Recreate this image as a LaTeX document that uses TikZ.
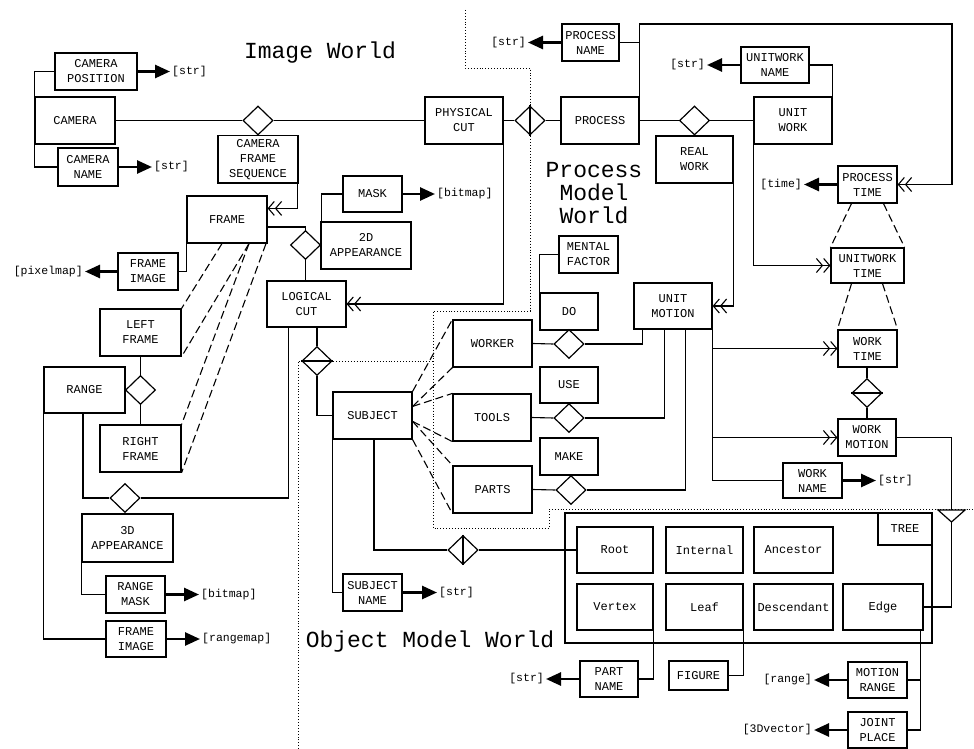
\documentclass[tikz,border=0pt]{standalone}
\usepackage{fontspec}
\setmainfont{Liberation Mono}
\usetikzlibrary{arrows.meta,shapes.geometric}
\newcommand\ERbox[6]{\node[box,minimum width={(#4-#2)*1pt},minimum height={(#5-#3)*1pt}] (#1) at ({(#2+#4)/2},{(#3+#5)/2}) {#6};}
\begin{document}
\begin{tikzpicture}[x=1pt,y=-1pt,
 box/.style={draw,line width=1.2pt,inner sep=0pt,align=center,fill=white,font=\fontsize{12}{15}\selectfont},
 dia/.style={draw,shape=diamond,line width=1.2pt,fill=white,inner sep=0pt,minimum width=30pt,minimum height=29pt},
 ln/.style={line width=1.1pt},
 dbl/.style={line width=1.1pt,-{Straight Barb[length=6pt,width=14pt]Straight Barb[length=6pt,width=14pt]}},
 attr/.style={line width=2.6pt,-{Triangle[length=15pt,width=13pt]}},
 lbl/.style={inner sep=2pt,font=\fontsize{11.5}{13}\selectfont},
 dsh/.style={line width=1.1pt,dash pattern=on 8pt off 4pt},
 bnd/.style={line width=0.9pt,dotted},
 ttl/.style={font=\fontsize{23}{23}\selectfont,align=center}]
\fill[white] (0,0) rectangle (974,749);
\useasboundingbox (0,0) rectangle (974,749);

% region boundaries
\draw[bnd] (465,10) -- (465,68) -- (530,68) -- (530,311) -- (433,311) -- (433,528) -- (549,528) -- (549,509) -- (974,509);
\draw[bnd] (298,749) -- (298,361) -- (433,361);

% titles
\node[ttl] (t1) at (320,53) {Image World};
\node[ttl] (t2) at (594,193) {Process\\Model\\World};
\node[ttl] (t3) at (430,642) {Object Model World};

% Image world boxes
\ERbox{campos}{55}{53}{137}{90}{CAMERA\\POSITION}
\ERbox{camera}{35}{97}{115}{144}{CAMERA}
\ERbox{camname}{58}{148}{118}{186}{CAMERA\\NAME}
\ERbox{physcut}{425}{97}{503}{144}{PHYSICAL\\CUT}
\ERbox{cfs}{218}{135.5}{298}{183}{CAMERA\\FRAME\\SEQUENCE}
\ERbox{frame}{187}{196}{267}{243}{FRAME}
\ERbox{mask}{343}{176}{402}{212}{MASK}
\ERbox{apptwo}{321}{222}{411}{269}{2D\\APPEARANCE}
\ERbox{logcut}{267}{281}{346}{327}{LOGICAL\\CUT}
\ERbox{frameimgA}{118}{253}{178}{290}{FRAME\\IMAGE}
\ERbox{leftframe}{100}{309}{181}{356}{LEFT\\FRAME}
\ERbox{rightframe}{100}{425}{181}{472}{RIGHT\\FRAME}
\ERbox{range}{44}{367}{125}{413}{RANGE}
\ERbox{appthree}{82}{514}{173}{562}{3D\\APPEARANCE}
\ERbox{rangemask}{106}{576}{165}{613}{RANGE\\MASK}
\ERbox{frameimgB}{106}{621}{166}{657}{FRAME\\IMAGE}

% Process world boxes
\ERbox{procname}{562}{24}{619}{61}{PROCESS\\NAME}
\ERbox{process}{561}{97}{639}{144}{PROCESS}
\ERbox{uwname}{741}{47}{809}{83}{UNITWORK\\NAME}
\ERbox{unitwork}{754}{97}{832}{144}{UNIT\\WORK}
\ERbox{realwork}{656}{136}{733}{183}{REAL\\WORK}
\ERbox{proctime}{838}{166}{897}{203}{PROCESS\\TIME}
\ERbox{uwtime}{831}{248}{904}{283}{UNITWORK\\TIME}
\ERbox{worktime}{838}{330}{897}{367}{WORK\\TIME}
\ERbox{workmotion}{838}{419}{896}{456}{WORK\\MOTION}
\ERbox{workname}{783}{463}{842}{498}{WORK\\NAME}
\ERbox{unitmotion}{634}{283}{712}{329}{UNIT\\MOTION}
\ERbox{mental}{559}{236}{618}{273}{MENTAL\\FACTOR}
\ERbox{do}{540}{293}{598}{330}{DO}
\ERbox{worker}{453}{320}{532}{367}{WORKER}
\ERbox{use}{540}{367}{598}{403}{USE}
\ERbox{tools}{453}{394}{531}{441}{TOOLS}
\ERbox{make}{540}{438}{598}{475}{MAKE}
\ERbox{parts}{453}{466}{532}{513}{PARTS}

% Object world boxes
\ERbox{subject}{333}{392}{412}{439}{SUBJECT}
\ERbox{subjname}{343}{574}{402}{611}{SUBJECT\\NAME}
\ERbox{treebox}{565}{513}{932}{643}{}
\ERbox{treelabel}{878}{513}{932}{545}{TREE}
\ERbox{root}{577}{527}{653}{573}{Root}
\ERbox{internal}{666}{527}{743}{573}{Internal}
\ERbox{ancestor}{754}{527}{833}{573}{Ancestor}
\ERbox{vertex}{577}{584}{653}{630}{Vertex}
\ERbox{leaf}{666}{584}{743}{630}{Leaf}
\ERbox{descendant}{754}{584}{833}{630}{Descendant}
\ERbox{edge}{843}{584}{923}{630}{Edge}
\ERbox{partname}{580}{661}{638}{697}{PART\\NAME}
\ERbox{figure}{669}{661}{728}{690}{FIGURE}
\ERbox{motionrange}{848}{662}{907}{698}{MOTION\\RANGE}
\ERbox{jointplace}{848}{712}{907}{748}{JOINT\\PLACE}

% diamonds
\node[dia] (dA) at (258,120.5) {};
\node[dia] (dB) at (305.5,245) {};
\node[dia] (dC) at (317,361) {};
\node[dia] (dD) at (140.5,390) {};
\node[dia] (dE) at (125,498) {};
\node[dia] (dF) at (530,120.5) {};
\node[dia] (dG) at (694.5,120.5) {};
\node[dia] (dH) at (569,344) {};
\node[dia] (dI) at (569,418) {};
\node[dia] (dJ) at (571,490) {};
\node[dia] (dK) at (867,393) {};
\node[dia] (dL) at (463,550) {};
\draw[ln] (dC.west) -- (dC.east);
\draw[ln] (dF.north) -- (dF.south);
\draw[ln] (dK.west) -- (dK.east);
\draw[ln] (dL.north) -- (dL.south);

% triangle marker
\coordinate (tritop) at (951.5,510);
\coordinate (triapex) at (951.5,522);
\draw[line width=1.2pt,fill=white] (938,510) -- (965,510) -- (triapex) -- cycle;

% attribute labels
\node[lbl,anchor=west] (sA) at (170,71.5) {[str]};
\node[lbl,anchor=west] (sB) at (152,167) {[str]};
\node[lbl,anchor=west] (sC) at (435,194) {[bitmap]};
\node[lbl,anchor=east] (sD) at (85,271.5) {[pixelmap]};
\node[lbl,anchor=west] (sE) at (199,594.5) {[bitmap]};
\node[lbl,anchor=west] (sF) at (200,639) {[rangemap]};
\node[lbl,anchor=east] (sG) at (528,42.5) {[str]};
\node[lbl,anchor=east] (sH) at (707,65) {[str]};
\node[lbl,anchor=east] (sI) at (804,184.5) {[time]};
\node[lbl,anchor=west] (sJ) at (876,480.5) {[str]};
\node[lbl,anchor=west] (sK) at (437,592.5) {[str]};
\node[lbl,anchor=east] (sL) at (546,679) {[str]};
\node[lbl,anchor=east] (sM) at (814,680) {[range]};
\node[lbl,anchor=east] (sN) at (814,730) {[3Dvector]};

\draw[attr] (campos.east) -- (sA.west);
\draw[attr] (camname.east) -- (sB.west);
\draw[attr] (mask.east) -- (sC.west);
\draw[attr] (frameimgA.west) -- (sD.east);
\draw[attr] (rangemask.east) -- (sE.west);
\draw[attr] (frameimgB.east) -- (sF.west);
\draw[attr] (procname.west) -- (sG.east);
\draw[attr] (uwname.west) -- (sH.east);
\draw[attr] (proctime.west) -- (sI.east);
\draw[attr] (workname.east) -- (sJ.west);
\draw[attr] (subjname.east) -- (sK.west);
\draw[attr] (partname.west) -- (sL.east);
\draw[attr] (motionrange.west) -- (sM.east);
\draw[attr] (jointplace.west) -- (sN.east);

% image world connectors
\draw[ln] (campos.west) -| (camera.north west);
\draw[ln] (camname.west) -| (camera.south west);
\draw[ln] (camera.east) -- (dA.west);
\draw[ln] (dA.east) -- (physcut.west);
\draw[ln] (dA.south) -- (cfs.north);
\draw[dbl] ([xshift=-1pt]cfs.south east) |- ([yshift=-13pt]frame.north east);
\draw[ln] ([yshift=-7.5pt]frame.east) -| (dB.north);
\draw[ln] (dB.east) -- (apptwo.west);
\draw[ln] (dB.south) -- (dB.south |- logcut.north);
\draw[ln] ([xshift=1pt]apptwo.north west) |- (mask.west);
\draw[dbl] (physcut.south east) |- (logcut.east);
\draw[ln] (frame.south west) |- (frameimgA.east);
\draw[dsh] ([xshift=-5pt]frame.south) -- (leftframe.north east);
\draw[dsh] ([xshift=22pt]frame.south) -- (leftframe.south east);
\draw[dsh] ([xshift=22pt]frame.south) -- (rightframe.north east);
\draw[dsh] ([xshift=39pt]frame.south) -- (rightframe.south east);
\draw[ln] (leftframe.south) -- (dD.north);
\draw[ln] (dD.south) -- (rightframe.north);
\draw[ln] (dD.west) -- (range.east);
\draw[ln] ([xshift=-1.5pt]range.south) |- (dE.west);
\draw[ln] (dE.east) -| ([xshift=22pt]logcut.south west);
\draw[ln] (dE.south) -- (dE.south |- appthree.north);
\draw[ln] (appthree.south west) |- (rangemask.west);
\draw[ln] (range.south west) |- (frameimgB.west);
\draw[ln] (dC.north |- logcut.south) -- (dC.north);
\draw[ln] (dC.south) |- (subject.west);

% process world connectors
\draw[ln] (physcut.east) -- (dF.west);
\draw[ln] (dF.east) -- (process.west);
\draw[ln] (process.east) -- (dG.west);
\draw[ln] (dG.east) -- (unitwork.west);
\draw[ln] (dG.south) -- (realwork.north);
\coordinate (tr) at (952,24);
\draw[dbl] (process.north east) |- (tr) |- (proctime.east);
\draw[ln] (procname.east) -- (procname.east -| process.north east);
\draw[ln] (uwname.east) -| (unitwork.north east);
\draw[dbl] (realwork.south east) |- (unitmotion.east);
\draw[dbl] (unitwork.south west) |- (uwtime.west);
\draw[dsh] ([xshift=-16pt]proctime.south) -- (uwtime.north west);
\draw[dsh] ([xshift=16pt]proctime.south) -- (uwtime.north east);
\draw[dsh] ([xshift=-16pt]uwtime.south) -- (worktime.north west);
\draw[dsh] ([xshift=15pt]uwtime.south) -- (worktime.north east);
\draw[ln] (dK.north |- worktime.south) -- (dK.north);
\draw[ln] (dK.south) -- (dK.south |- workmotion.north);
\draw[ln] (unitmotion.south east) |- (workname.west);
\draw[dbl] (unitmotion.south east) |- (worktime.west);
\draw[dbl] (unitmotion.south east) |- (workmotion.west);
\draw[ln] (workmotion.east) -| (tritop);
\draw[ln] (triapex) |- (edge.east);
\draw[ln] (mental.west) -| (do.north west);
\draw[ln] (do.south) -- (dH.north);
\draw[ln] (worker.east) -- (dH.west);
\draw[ln] (dH.east) -| ([xshift=9pt]unitmotion.south west);
\draw[ln] (use.south) -- (dI.north);
\draw[ln] (tools.east) -- (dI.west);
\draw[ln] (dI.east) -| ([xshift=31pt]unitmotion.south west);
\draw[ln] (make.south -| dJ.north) -- (dJ.north);
\draw[ln] (parts.east) -- (dJ.west);
\draw[ln] (dJ.east) -| ([xshift=52pt]unitmotion.south west);

% object world connectors
\draw[dsh] (subject.north east) -- (worker.north west);
\draw[dsh] ([yshift=-15pt]subject.north east) -- (worker.south west);
\draw[dsh] ([yshift=-15pt]subject.north east) -- (tools.north west);
\draw[dsh] ([yshift=-30pt]subject.north east) -- (tools.south west);
\draw[dsh] ([yshift=-30pt]subject.north east) -- (parts.north west);
\draw[dsh] (subject.south east) -- (parts.south west);
\draw[ln] (subject.south west) |- (subjname.west);
\draw[ln] ([xshift=1.5pt]subject.south) |- (dL.west);
\draw[ln] (dL.east) -- (root.west);
\draw[ln] (partname.east) -| (vertex.south east);
\draw[ln] (figure.east) -| (leaf.south east);
\draw[ln] (motionrange.east) -| ([xshift=-3pt]edge.south east);
\draw[ln] (jointplace.east) -| ([xshift=-3pt]edge.south east);
\end{tikzpicture}
\end{document}
